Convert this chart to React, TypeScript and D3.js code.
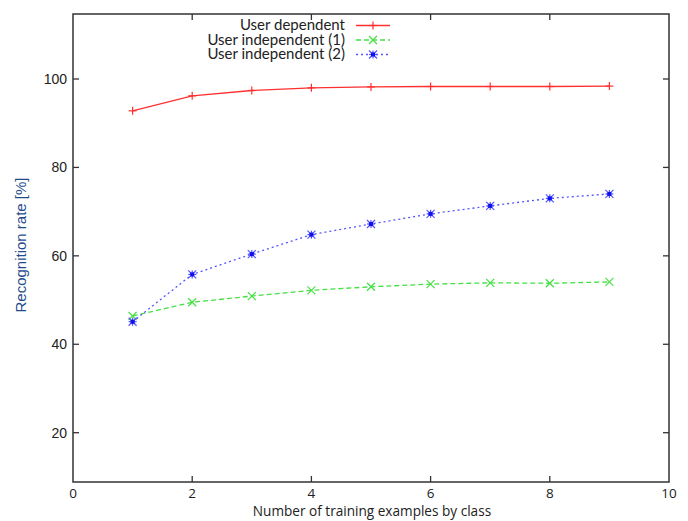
import React, { useRef, useEffect } from "react";
import * as d3 from "d3";

const trainingCounts = [1, 2, 3, 4, 5, 6, 7, 8, 9];
const userDependent = [92.8, 96.2, 97.4, 98.0, 98.2, 98.3, 98.3, 98.3, 98.4];
const userIndependent1 = [46.4, 49.5, 50.9, 52.2, 53.0, 53.6, 53.9, 53.8, 54.1];
const userIndependent2 = [45.1, 55.8, 60.4, 64.8, 67.2, 69.5, 71.3, 73.0, 74.0];
const seriesNames = ["User dependent", "User independent (1)", "User independent (2)"];
const xTicks = [0, 2, 4, 6, 8, 10];
const yTicks = [20, 40, 60, 80, 100];

const width = 688;
const height = 521;

const App = () => {
  const svgRef = useRef<SVGSVGElement>(null);

  useEffect(() => {
    const svg = d3.select(svgRef.current);
    svg.selectAll("*").remove();

    const left = 73, right = 669, top = 14, bottom = 482;

    const x = d3.scaleLinear().domain([0, 10]).range([left, right]);
    const y = d3.scaleLinear().domain([8.85, 114.7]).range([bottom, top]);

    const frame = "#333";
    const tickLen = 6;

    // frame
    svg.append("rect")
      .attr("x", left).attr("y", top)
      .attr("width", right - left).attr("height", bottom - top)
      .attr("fill", "none").attr("stroke", frame).attr("stroke-width", 1.5);

    // x ticks (bottom and mirrored on top)
    xTicks.slice(1, -1).forEach((t) => {
      svg.append("line").attr("x1", x(t)).attr("x2", x(t))
        .attr("y1", bottom).attr("y2", bottom - tickLen)
        .attr("stroke", frame).attr("stroke-width", 1.3);
      svg.append("line").attr("x1", x(t)).attr("x2", x(t))
        .attr("y1", top).attr("y2", top + tickLen)
        .attr("stroke", frame).attr("stroke-width", 1.3);
    });
    xTicks.forEach((t) => {
      svg.append("text").attr("x", x(t)).attr("y", 498)
        .attr("text-anchor", "middle")
        .attr("font-family", "Open Sans, sans-serif").attr("font-size", 13.5)
        .attr("fill", "#222").text(t);
    });

    // y ticks (left and mirrored on right)
    yTicks.forEach((t) => {
      svg.append("line").attr("x1", left).attr("x2", left + tickLen)
        .attr("y1", y(t)).attr("y2", y(t))
        .attr("stroke", frame).attr("stroke-width", 1.3);
      svg.append("line").attr("x1", right).attr("x2", right - tickLen)
        .attr("y1", y(t)).attr("y2", y(t))
        .attr("stroke", frame).attr("stroke-width", 1.3);
      svg.append("text").attr("x", 67).attr("y", y(t) + 5)
        .attr("text-anchor", "end")
        .attr("font-family", "Liberation Sans, Arial, sans-serif").attr("font-size", 14)
        .attr("fill", "#222").text(t);
    });

    // axis titles
    svg.append("text").attr("x", (left + right) / 2 + 1).attr("y", 516)
      .attr("text-anchor", "middle")
      .attr("font-family", "Open Sans, sans-serif").attr("font-size", 13.6)
      .attr("fill", "#222").text("Number of training examples by class");
    svg.append("text")
      .attr("transform", "translate(26,245) rotate(-90)")
      .attr("text-anchor", "middle")
      .attr("font-family", "Liberation Sans, Arial, sans-serif").attr("font-size", 15)
      .attr("fill", "#1f4d8c").text("Recognition rate [%]");

    const series = [
      { values: userDependent, color: "#ff3030", dash: null, marker: "plus" },
      { values: userIndependent1, color: "#44e044", dash: "5,3", marker: "cross" },
      { values: userIndependent2, color: "#5555ff", dash: "2,3", marker: "star" },
    ];

    const drawMarker = (g: any, cx: number, cy: number, kind: string, color: string) => {
      const s = 4;
      if (kind === "plus" || kind === "star") {
        g.append("line").attr("x1", cx - s).attr("x2", cx + s).attr("y1", cy).attr("y2", cy)
          .attr("stroke", color).attr("stroke-width", 1.2);
        g.append("line").attr("x1", cx).attr("x2", cx).attr("y1", cy - s).attr("y2", cy + s)
          .attr("stroke", color).attr("stroke-width", 1.2);
      }
      if (kind === "cross" || kind === "star") {
        g.append("line").attr("x1", cx - s).attr("x2", cx + s).attr("y1", cy - s).attr("y2", cy + s)
          .attr("stroke", color).attr("stroke-width", 1.2);
        g.append("line").attr("x1", cx - s).attr("x2", cx + s).attr("y1", cy + s).attr("y2", cy - s)
          .attr("stroke", color).attr("stroke-width", 1.2);
      }
      if (kind === "star") {
        g.append("rect").attr("x", cx - 2).attr("y", cy - 2).attr("width", 4).attr("height", 4)
          .attr("fill", "#1010ee");
      }
    };

    const line = d3.line<number>()
      .x((d, i) => x(trainingCounts[i]))
      .y((d) => y(d));

    series.forEach((s) => {
      const path = svg.append("path")
        .datum(s.values)
        .attr("fill", "none")
        .attr("stroke", s.color)
        .attr("stroke-width", 1.3)
        .attr("d", line);
      if (s.dash) path.attr("stroke-dasharray", s.dash);
      const g = svg.append("g");
      s.values.forEach((v, i) => drawMarker(g, x(trainingCounts[i]), y(v), s.marker, s.color));
    });

    // legend
    const legendY = [25.5, 40, 54.5];
    series.forEach((s, i) => {
      svg.append("text").attr("x", 345).attr("y", legendY[i] + 4.5)
        .attr("text-anchor", "end")
        .attr("font-family", "Lato, sans-serif").attr("font-size", 15)
        .attr("fill", "#222").text(seriesNames[i]);
      const l = svg.append("line").attr("x1", 356).attr("x2", 390)
        .attr("y1", legendY[i]).attr("y2", legendY[i])
        .attr("stroke", s.color).attr("stroke-width", 1.3);
      if (s.dash) l.attr("stroke-dasharray", s.dash);
      drawMarker(svg.append("g"), 373, legendY[i], s.marker, s.color);
    });
  }, []);

  return (
    <svg
      ref={svgRef}
      width={width}
      height={height}
      style={{ position: "absolute", left: 0, top: 0, background: "#fff" }}
    ></svg>
  );
};

export default App;
